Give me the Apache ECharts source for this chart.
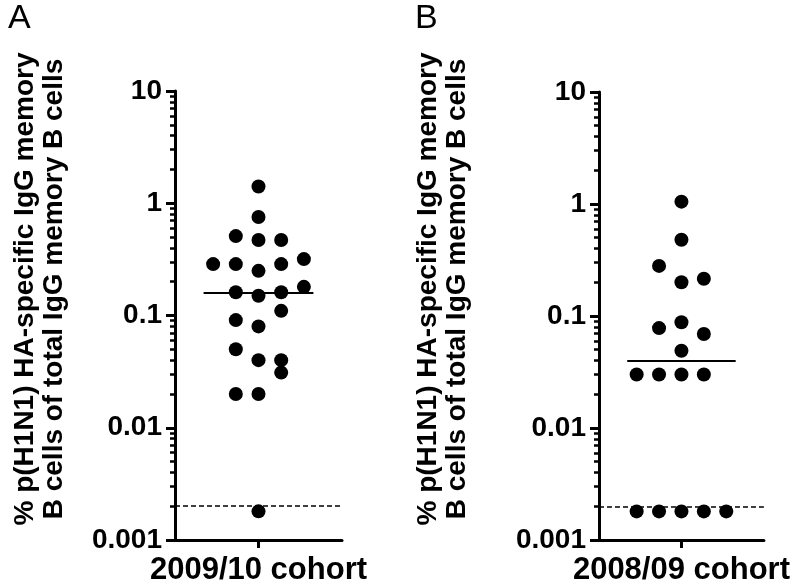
<!DOCTYPE html>
<html>
<head>
<meta charset="utf-8">
<script src="https://cdn.jsdelivr.net/npm/echarts@6/dist/echarts.min.js"></script>
<style>html,body{margin:0;padding:0;background:#fff;}#c{width:793px;height:588px;}</style>
</head>
<body>
<div id="c"></div>
<script>
// ---- data ----
const categoriesA = ['2009/10 cohort'];
const categoriesB = ['2008/09 cohort'];
const tickValues = [0.001, 0.01, 0.1, 1, 10];
const tickLabels = ['0.001', '0.01', '0.1', '1', '10'];
const valuesA = [1.41, 0.755, 0.51, 0.47, 0.47, 0.287, 0.287, 0.25, 0.287, 0.318,
                 0.161, 0.15, 0.161, 0.18, 0.11, 0.091, 0.08, 0.05, 0.04, 0.04,
                 0.031, 0.02, 0.02, 0.0018];
const slotsA  = [0, 0, -1, 0, 1, -2, -1, 0, 1, 2,
                 -1, 0, 1, 2, 1, -1, 0, -1, 0, 1,
                 1, -1, 0, 0];
const valuesB = [1.05, 0.48, 0.28, 0.2, 0.215, 0.078, 0.088, 0.069, 0.049,
                 0.03, 0.03, 0.03, 0.03,
                 0.0018, 0.0018, 0.0018, 0.0018, 0.0018];
const slotsB  = [0, 0, -1, 0, 1, -1, 0, 1, 0,
                 -2, -1, 0, 1,
                 -2, -1, 0, 1, 2];
const medians = [0.16, 0.04];
const detectionLimit = 0.002;
const yTitle = '% p(H1N1) HA-specific IgG memory\nB cells of total IgG memory B cells';
const panelLetters = ['A', 'B'];

// minor ticks 2..9 x decade
const minorTicks = [];
for (let d = -3; d < 1; d++) for (let k = 2; k <= 9; k++) minorTicks.push(+(k * Math.pow(10, d)).toPrecision(3));

const FONT = '"Liberation Sans", Arial, sans-serif';
const chart = echarts.init(document.getElementById('c'), null, {renderer: 'canvas'});

const grids = [
  {left: 175, top: 91, width: 167, height: 449},
  {left: 599, top: 92, width: 167, height: 448}
];
const SLOT_RANGE = 3.68;
const MED_HALF = 2.42;

const xAxes = [], yAxes = [], series = [];
[[categoriesA, valuesA, slotsA], [categoriesB, valuesB, slotsB]].forEach(([cats, vals, slots], g) => {
  xAxes.push({
    type: 'category', gridIndex: g, data: cats, boundaryGap: true, position: 'bottom',
    axisLine: {show: true, onZero: false, lineStyle: {color: '#000', width: 3}},
    axisTick: {show: true, alignWithLabel: true, length: 8, lineStyle: {color: '#000', width: 3}},
    axisLabel: {color: '#000', fontFamily: FONT, fontWeight: 'bold', fontSize: 31, margin: 15},
    splitLine: {show: false}
  });
  xAxes.push({
    type: 'value', gridIndex: g, min: -SLOT_RANGE, max: SLOT_RANGE, show: false
  });
  yAxes.push({
    type: 'log', logBase: 10, gridIndex: g, min: 0.001, max: 10, position: 'left',
    axisLine: {show: true, onZero: false, lineStyle: {color: '#000', width: 3}},
    axisTick: {show: true, length: 9, lineStyle: {color: '#000', width: 3}},
    axisLabel: {color: '#000', fontFamily: FONT, fontWeight: 'bold', fontSize: 28, margin: 13,
      formatter: (v) => { const i = tickValues.findIndex(t => Math.abs(Math.log10(t) - Math.log10(v)) < 1e-6); return i >= 0 ? tickLabels[i] : ''; }},
    splitLine: {show: false}
  });
  yAxes.push({
    type: 'log', logBase: 10, gridIndex: g, min: 0.001, max: 10, position: 'left', offset: 0,
    axisLine: {show: false, onZero: false},
    axisTick: {show: true, length: 5, customValues: minorTicks, lineStyle: {color: '#000', width: 2.5}},
    axisLabel: {show: false},
    splitLine: {show: false}
  });
  series.push({
    type: 'scatter', xAxisIndex: g * 2 + 1, yAxisIndex: g * 2,
    symbol: 'circle', symbolSize: 14,
    itemStyle: {color: '#000', opacity: 1},
    data: slots.map((s, i) => [s, vals[i]]),
    z: 3,
    markLine: {
      silent: true, symbol: 'none', label: {show: false}, animation: false,
      data: [
        [{coord: [-MED_HALF, medians[g]], lineStyle: {type: 'solid', width: 2, color: '#000'}},
         {coord: [MED_HALF, medians[g]]}],
        [{coord: [-SLOT_RANGE, detectionLimit], lineStyle: {type: [5, 3], width: 1.6, color: '#000'}},
         {coord: [SLOT_RANGE, detectionLimit]}]
      ]
    }
  });
});

const graphic = [];
[[8, 2], [415, 2]].forEach(([x, y], i) => {
  graphic.push({type: 'text', left: x, top: y, style: {text: panelLetters[i], font: '34px ' + FONT, fill: '#000'}});
});
[[40, 289], [443, 289]].forEach(([x, y]) => {
  graphic.push({type: 'text', x: x, y: y, rotation: Math.PI / 2,
    style: {text: yTitle, font: 'bold 28px ' + FONT, fill: '#000', align: 'center', verticalAlign: 'middle', lineHeight: 29}});
});

chart.setOption({
  animation: false,
  backgroundColor: '#fff',
  grid: grids,
  xAxis: xAxes,
  yAxis: yAxes,
  series: series,
  graphic: graphic
});
</script>
</body>
</html>
